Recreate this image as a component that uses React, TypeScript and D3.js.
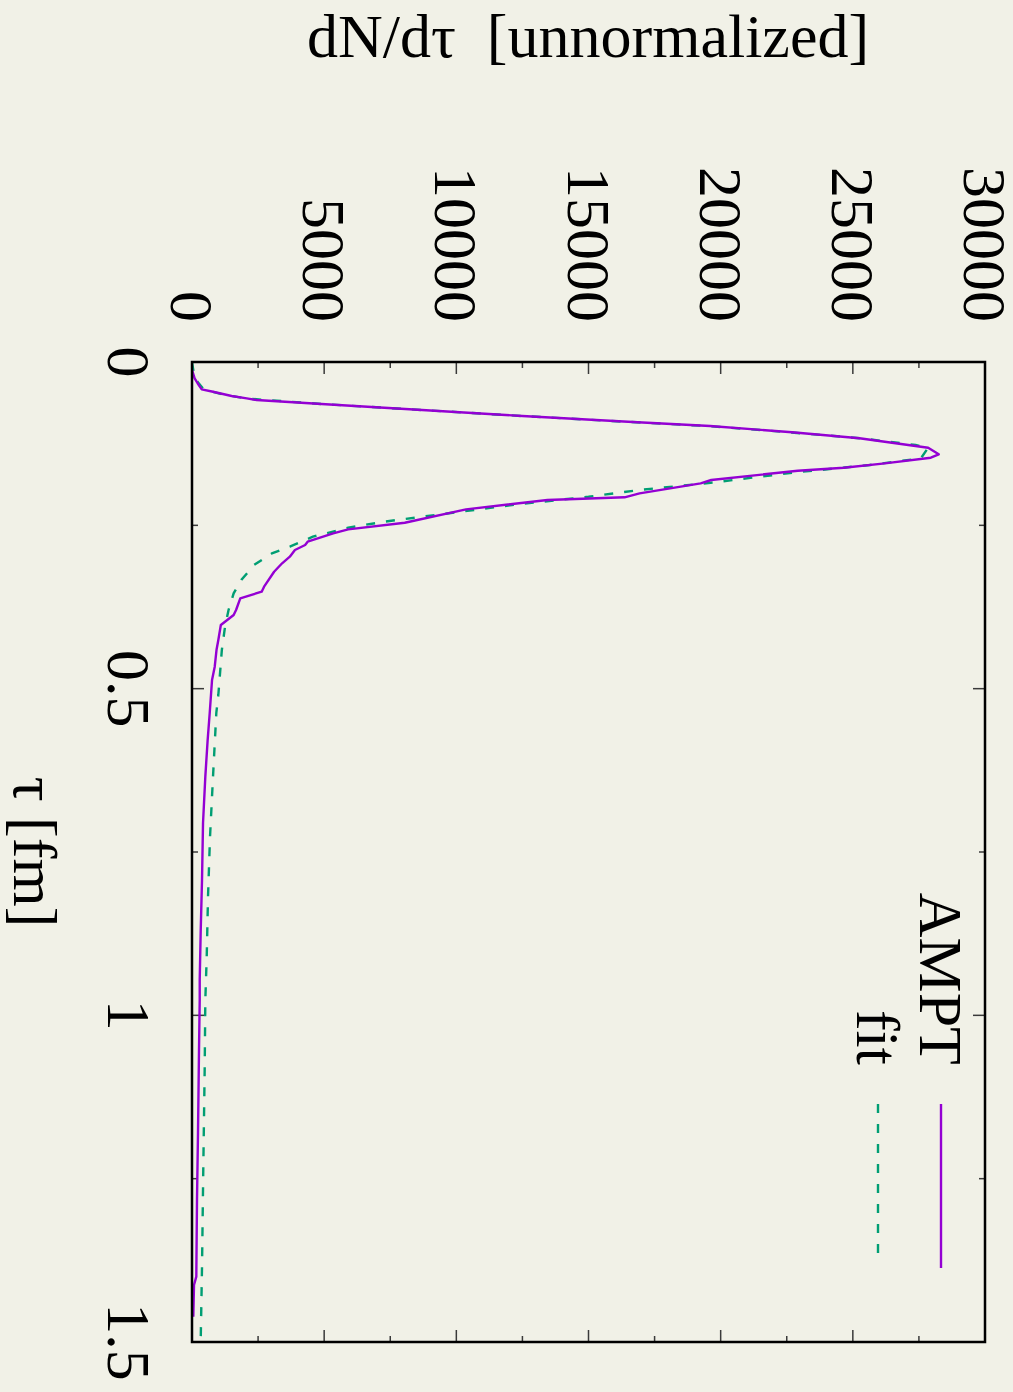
import React from 'react';
import * as d3 from 'd3';

// ---- data ----
const amptTau = [0.012, 0.025, 0.035, 0.0418, 0.0455, 0.052, 0.0556, 0.0582, 0.0643, 0.0735, 0.0827, 0.0914, 0.098, 0.1076, 0.1168, 0.1312, 0.1413, 0.1465, 0.1551, 0.1618, 0.1664, 0.1806, 0.1857, 0.201, 0.2071, 0.2112, 0.2255, 0.246, 0.2561, 0.2622, 0.275, 0.2801, 0.2878, 0.298, 0.3081, 0.321, 0.3439, 0.3516, 0.3617, 0.3796, 0.3872, 0.4026, 0.4255, 0.44, 0.4664, 0.4867, 0.5372, 0.58, 0.6347, 0.7056, 0.7929, 0.8694, 0.9459, 0.9765, 1.0531, 1.1801, 1.2827, 1.4, 1.4128, 1.4613];
const amptCount = [0, 100, 250, 367, 795, 1500, 2072, 2443, 4900, 8700, 12500, 16500, 19600, 22700, 25250, 27850, 28250, 27950, 26212, 24659, 22917, 19644, 19242, 16932, 16364, 13447, 10367, 8049, 5909, 5341, 4375, 4280, 3894, 3701, 3409, 3106, 2727, 2636, 1826, 1667, 1576, 1091, 996, 930, 860, 758, 670, 590, 504, 417, 379, 330, 292, 292, 265, 227, 189, 163, 76, 49];

const fitTau = [0.0, 0.015, 0.03, 0.042, 0.05, 0.056, 0.0643, 0.0735, 0.0827, 0.0914, 0.098, 0.1076, 0.1168, 0.127, 0.1316, 0.1474, 0.1577, 0.1694, 0.1857, 0.1959, 0.2062, 0.2189, 0.2342, 0.2444, 0.2536, 0.2674, 0.2827, 0.2928, 0.3107, 0.3337, 0.354, 0.3796, 0.4051, 0.4408, 0.5097, 0.5372, 0.6347, 0.7266, 0.8184, 0.9102, 0.9765, 1.0786, 1.2317, 1.3847, 1.4969];
const fitCount = [0, 60, 200, 450, 1200, 2100, 4900, 8700, 12500, 16400, 19500, 22600, 25300, 27375, 27841, 27576, 25636, 22727, 19451, 16932, 15000, 12106, 9205, 7273, 5909, 4572, 3701, 3023, 2348, 1864, 1576, 1383, 1250, 1129, 996, 920, 795, 682, 606, 557, 504, 481, 428, 379, 330];

const tauTickValues = [0, 0.5, 1, 1.5];
const tauTickLabels = ['0', '0.5', '1', '1.5'];
const tauMinorTicks = [0.25, 0.75, 1.25];
const countTickValues = [0, 5000, 10000, 15000, 20000, 25000, 30000];
const countTickLabels = ['0', '5000', '10000', '15000', '20000', '25000', '30000'];
const countMinorTicks = [2500, 7500, 12500, 17500, 22500, 27500];
const seriesNames = ['AMPT', 'fit'];
const seriesColors = ['#9400d3', '#009e73'];

const FONT = "'Liberation Serif', 'Times New Roman', Times, serif";

export default function App() {
  const W = 1013;
  const H = 1392;
  // unrotated (landscape) coordinates; whole group is rotated 90deg clockwise
  const left = 362, right = 1342, top = 28, bottom = 821;
  const x = d3.scaleLinear().domain([0, 1.5]).range([left, right]);
  const y = d3.scaleLinear().domain([0, 30000]).range([bottom, top]);

  const line = d3.line<[number, number]>().x(d => x(d[0])).y(d => y(d[1]));
  const amptPath = line(amptTau.map((t, i) => [t, amptCount[i]] as [number, number])) || '';
  const fitPath = line(fitTau.map((t, i) => [t, fitCount[i]] as [number, number])) || '';

  const tickColor = '#3a3a3a';
  const major = 12, minor = 6;
  const fs = 62;

  return (
    <svg width={W} height={H} style={{ position: 'absolute', left: 0, top: 0 }} fontFamily={FONT}>
      <rect x={0} y={0} width={W} height={H} fill="#f1f1e7" />
      <defs>
        <clipPath id="plotclip">
          <rect x={left} y={top} width={right - left} height={bottom - top} />
        </clipPath>
      </defs>
      <g transform={`translate(${W},0) rotate(90)`}>
        {/* ticks on x (tau) */}
        {tauTickValues.map((v, i) => (
          <g key={'tx' + i}>
            <line x1={x(v)} x2={x(v)} y1={bottom} y2={bottom - major} stroke={tickColor} strokeWidth={1.5} />
            <line x1={x(v)} x2={x(v)} y1={top} y2={top + major} stroke={tickColor} strokeWidth={1.5} />
            <text x={x(v)} y={905} textAnchor="middle" fontSize={fs} fill="#000">{tauTickLabels[i]}</text>
          </g>
        ))}
        {tauMinorTicks.map((v, i) => (
          <g key={'txm' + i}>
            <line x1={x(v)} x2={x(v)} y1={bottom} y2={bottom - minor} stroke={tickColor} strokeWidth={1.5} />
            <line x1={x(v)} x2={x(v)} y1={top} y2={top + minor} stroke={tickColor} strokeWidth={1.5} />
          </g>
        ))}
        {/* ticks on y (count) */}
        {countTickValues.map((v, i) => (
          <g key={'ty' + i}>
            <line x1={left} x2={left + major} y1={y(v)} y2={y(v)} stroke={tickColor} strokeWidth={1.5} />
            <line x1={right} x2={right - major} y1={y(v)} y2={y(v)} stroke={tickColor} strokeWidth={1.5} />
            <text x={322} y={y(v) + 21} textAnchor="end" fontSize={fs} fill="#000">{countTickLabels[i]}</text>
          </g>
        ))}
        {countMinorTicks.map((v, i) => (
          <g key={'tym' + i}>
            <line x1={left} x2={left + minor} y1={y(v)} y2={y(v)} stroke={tickColor} strokeWidth={1.5} />
            <line x1={right} x2={right - minor} y1={y(v)} y2={y(v)} stroke={tickColor} strokeWidth={1.5} />
          </g>
        ))}

        {/* curves */}
        <g clipPath="url(#plotclip)">
          <path d={fitPath} fill="none" stroke={seriesColors[1]} strokeWidth={2.4} strokeDasharray="9,11" />
          <path d={amptPath} fill="none" stroke={seriesColors[0]} strokeWidth={2.4} strokeLinejoin="round" />
        </g>

        {/* frame */}
        <rect x={left} y={top} width={right - left} height={bottom - top} fill="none" stroke="#000" strokeWidth={2.5} />

        {/* legend */}
        <text x={1065} y={93} textAnchor="end" fontSize={fs} fill="#000">{seriesNames[0]}</text>
        <line x1={1104} x2={1268} y1={72} y2={72} stroke={seriesColors[0]} strokeWidth={2.4} />
        <text x={1065} y={156} textAnchor="end" fontSize={fs} fill="#000">{seriesNames[1]}</text>
        <line x1={1104} x2={1262} y1={135} y2={135} stroke={seriesColors[1]} strokeWidth={2.4} strokeDasharray="9,11" />

        {/* x label */}
        <text x={(left + right) / 2} y={999} textAnchor="middle" fontSize={fs} fill="#000">τ [fm]</text>
      </g>
      {/* y label (reads horizontally after rotation) */}
      <text x={588} y={57} textAnchor="middle" fontSize={fs} fill="#000" xmlSpace="preserve" style={{ whiteSpace: 'pre' }}>dN/dτ  [unnormalized]</text>
    </svg>
  );
}
